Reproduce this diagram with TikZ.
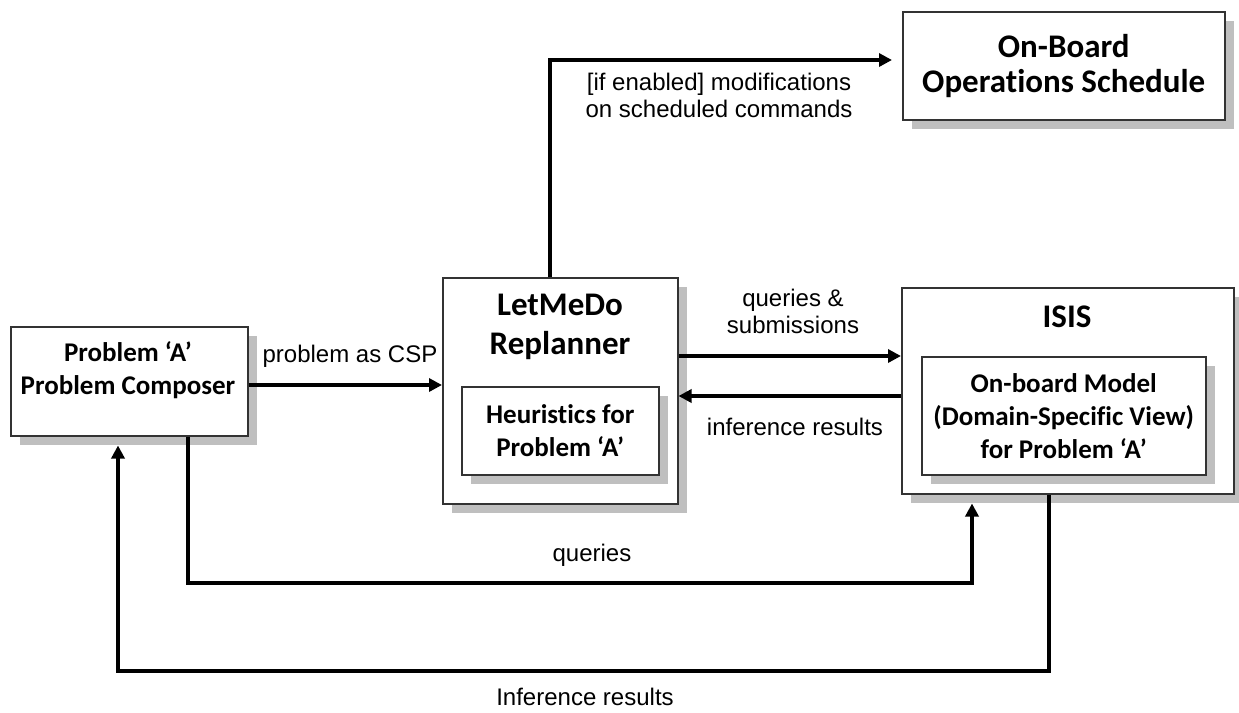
\documentclass[tikz,border=0pt]{standalone}
\usepackage{fontspec}
\setmainfont{Carlito}[Ligatures={NoCommon}]
\newfontfamily\arialfont{Liberation Sans}
\usetikzlibrary{arrows.meta,shadows}

\begin{document}
\begin{tikzpicture}[x=0.5pt, y=-0.5pt, line join=miter,
		>={Triangle[length=6.5pt,width=6.5pt]},
		box/.style={draw=black!80, line width=0.75pt, fill=white, inner sep=0pt,
			anchor=north west, align=center,
			font=\bfseries\fontsize{13.5}{16.5}\selectfont,
			drop shadow={shadow xshift=4.5pt, shadow yshift=-4.5pt, fill=black!25, opacity=1}},
		title/.style={align=center, inner sep=0pt, font=\bfseries\fontsize{16.5}{19.5}\selectfont},
		body/.style={align=center, inner sep=0pt, font=\bfseries\fontsize{13.5}{16.5}\selectfont},
		lbl/.style={align=center, inner sep=0pt, font=\arialfont\fontsize{12}{13.5}\selectfont},
		flow/.style={->, line width=2pt}]
	\useasboundingbox (0,0) rectangle (1239,713);
	% boxes
	\node[box, minimum width=161pt, minimum height=54pt, font=\bfseries\fontsize{16.5}{17.5}\selectfont] (obs) at (902,11) {On-Board\\Operations Schedule};
	\node[box, minimum width=118.5pt, minimum height=54.5pt] (composer) at (10,326) {};
	\node[body] (composer-text) at (128,370) {Problem ‘A’\\Problem Composer};
	\node[box, minimum width=117.5pt, minimum height=113pt] (letmedo) at (442,277) {};
	\node[title] (letmedo-title) at (560,327) {LetMeDo\\Replanner};
	\node[box, minimum width=98.5pt, minimum height=44pt] (heur) at (461,386) {Heuristics for\\Problem ‘A’};
	\node[box, minimum width=166pt, minimum height=103pt] (isis) at (901,287) {};
	\node[title] (isis-title) at (1067,317) {ISIS};
	\node[box, minimum width=142pt, minimum height=59pt] (model) at (921,356) {On-board Model\\(Domain-Specific View)\\for Problem ‘A’};
	\coordinate (isis-foot) at ([yshift=-4.5pt]isis.south);
	\coordinate (composer-foot) at ([yshift=-4.5pt]composer.south);
	% connectors
	\draw[flow] (composer.east |- 0,385) -- (letmedo.west |- 0,385);
	\draw[flow] (letmedo.east |- 0,356) -- (isis.west |- 0,356);
	\draw[flow] (isis.west |- 0,396) -- (letmedo.east |- 0,396);
	\draw[flow] (letmedo.north -| 550,0) |- ([xshift=-5pt]obs.west |- 0,60);
	\draw[flow] (composer.south -| 188,0) -- (188,583) -| (isis-foot -| 972,0);
	\draw[flow] (isis.south -| 1049,0) -- (1049,671) -| (composer-foot -| 118,0);
	% labels
	\node[lbl] (csp-lbl) at (350,356) {problem as CSP};
	\node[lbl] (qs-lbl) at (793,311) {queries \&\\submissions};
	\node[lbl] (inf-lbl) at (795,427) {inference results};
	\node[lbl] (mod-lbl) at (719,95) {[if enabled] modifications\\on scheduled commands};
	\node[lbl] (q-lbl) at (592,555) {queries};
	\node[lbl] (ir-lbl) at (585,697) {Inference results};
\end{tikzpicture}
\end{document}
